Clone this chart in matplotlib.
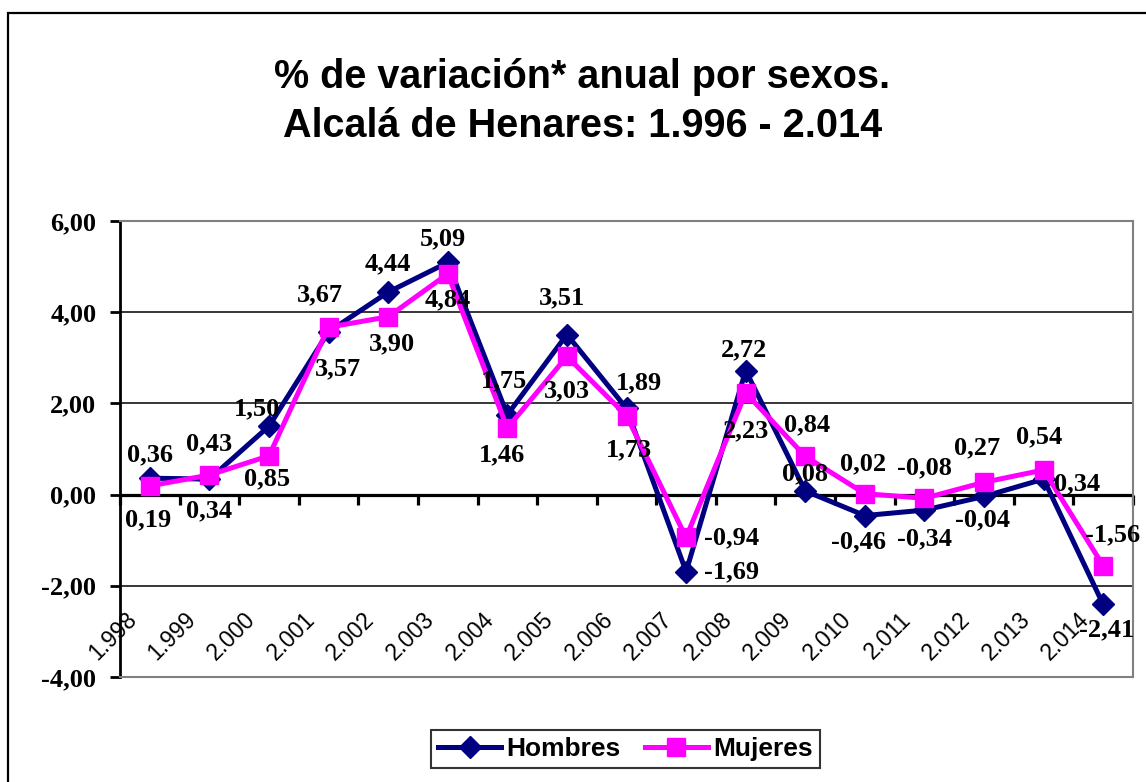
import matplotlib
matplotlib.use('Agg')
import matplotlib.pyplot as plt
import matplotlib.patches as patches
import numpy as np

# datos
years = ['1.998', '1.999', '2.000', '2.001', '2.002', '2.003', '2.004', '2.005', '2.006',
         '2.007', '2.008', '2.009', '2.010', '2.011', '2.012', '2.013', '2.014']
hombres = [0.36, 0.34, 1.50, 3.57, 4.44, 5.09, 1.75, 3.51, 1.89,
           -1.69, 2.72, 0.08, -0.46, -0.34, -0.04, 0.34, -2.41]
mujeres = [0.19, 0.43, 0.85, 3.67, 3.90, 4.84, 1.46, 3.03, 1.73,
           -0.94, 2.23, 0.84, 0.02, -0.08, 0.27, 0.54, -1.56]
yticks = [-4, -2, 0, 2, 4, 6]

# label offsets (pixels, y up)
off_h = [(0, 23), (0, -32), (-12, 17), (9, -37), (0, 28), (-5, 24), (-3, 34), (-5, 37), (12, 26),
         (45, 0), (-2, 21), (0, 17), (-6, -26), (0, -29), (-2, -23), (33, -5), (3, -25)]
off_m = [(-2, -34), (0, 31), (-2, -23), (-9, 32), (4, -27), (0, -26), (-5, -27), (0, -34), (2, -34),
         (45, 0), (0, -38), (2, 31), (-2, 30), (0, 30), (-7, 34), (-4, 33), (9, 31)]

def fmt(v):
    return f"{v:.2f}".replace('.', ',')

fig = plt.figure(figsize=(11.46, 7.82), dpi=100)
ax = fig.add_axes([120 / 1146, 1 - 677 / 782, (1133 - 120) / 1146, (677 - 221) / 782])

x = np.arange(len(years))
navy = '#000080'
pink = '#FF00FF'

ax.plot(x, hombres, color=navy, lw=3.6, marker='D', ms=11.5, mfc=navy, mec=navy, label='Hombres', zorder=4)
ax.plot(x, mujeres, color=pink, lw=3.6, marker='s', ms=13.5, mfc=pink, mec=pink, label='Mujeres', zorder=5)

ax.set_xlim(-0.5, len(years) - 0.5)
ax.set_ylim(-4, 6)

# grid and zero axis
for v in yticks[1:-1]:
    if v != 0:
        ax.axhline(v, color='black', lw=1.1, zorder=1)
ax.axhline(0, color='black', lw=2.3, zorder=2)
ax.plot(np.arange(-0.5, len(years)), np.zeros(len(years) + 1), ls='none', marker=3, ms=7,
        mew=2.3, color='black', zorder=2, clip_on=False)

for s in ['top', 'right', 'bottom']:
    ax.spines[s].set_color('#808080')
    ax.spines[s].set_linewidth(1.5)
ax.spines['left'].set_color('black')
ax.spines['left'].set_linewidth(2)

ax.set_xticks([])
ax.set_yticks(yticks)
ax.set_yticklabels([fmt(v) for v in yticks], fontfamily='Liberation Serif', fontweight='bold', fontsize=19)
ax.tick_params(axis='y', direction='out', length=7, width=2, pad=10)

# category labels
for i, yr in enumerate(years):
    ax.text(i - 0.15, -2.48, yr, rotation=45, ha='right', va='top', fontsize=16.5,
            fontfamily='Liberation Sans')

# data labels
for i in range(len(years)):
    ax.annotate(fmt(hombres[i]), (x[i], hombres[i]), xytext=off_h[i], textcoords='offset pixels',
                ha='center', va='center', fontsize=19, fontweight='bold',
                fontfamily='Liberation Serif', zorder=6, annotation_clip=False)
    ax.annotate(fmt(mujeres[i]), (x[i], mujeres[i]), xytext=off_m[i], textcoords='offset pixels',
                ha='center', va='center', fontsize=19, fontweight='bold',
                fontfamily='Liberation Serif', zorder=6, annotation_clip=False)

# title
fig.text(0.508, 1 - 88 / 782, '% de variación* anual por sexos.', ha='center', va='baseline',
         fontsize=28.5, fontweight='bold', fontfamily='Liberation Sans')
fig.text(0.508, 1 - 137 / 782, 'Alcalá de Henares: 1.996 - 2.014', ha='center', va='baseline',
         fontsize=28.5, fontweight='bold', fontfamily='Liberation Sans')

# legend
leg = fig.legend(loc='center', bbox_to_anchor=(625.5 / 1146, 1 - 749 / 782), ncol=2,
                 prop={'family': 'Liberation Sans', 'weight': 'bold', 'size': 19},
                 frameon=True, fancybox=False, handlelength=2.4, handletextpad=0.2,
                 columnspacing=0.9, borderpad=0.25)
leg.get_frame().set_edgecolor('black')
leg.get_frame().set_linewidth(1.5)

# chart border
fig.patches.append(patches.Rectangle((8 / 1146, -0.1), 1.2, 1.1 - 13 / 782, transform=fig.transFigure,
                                     fill=False, edgecolor='black', lw=1.6))

fig.savefig('out.png', dpi=100)
